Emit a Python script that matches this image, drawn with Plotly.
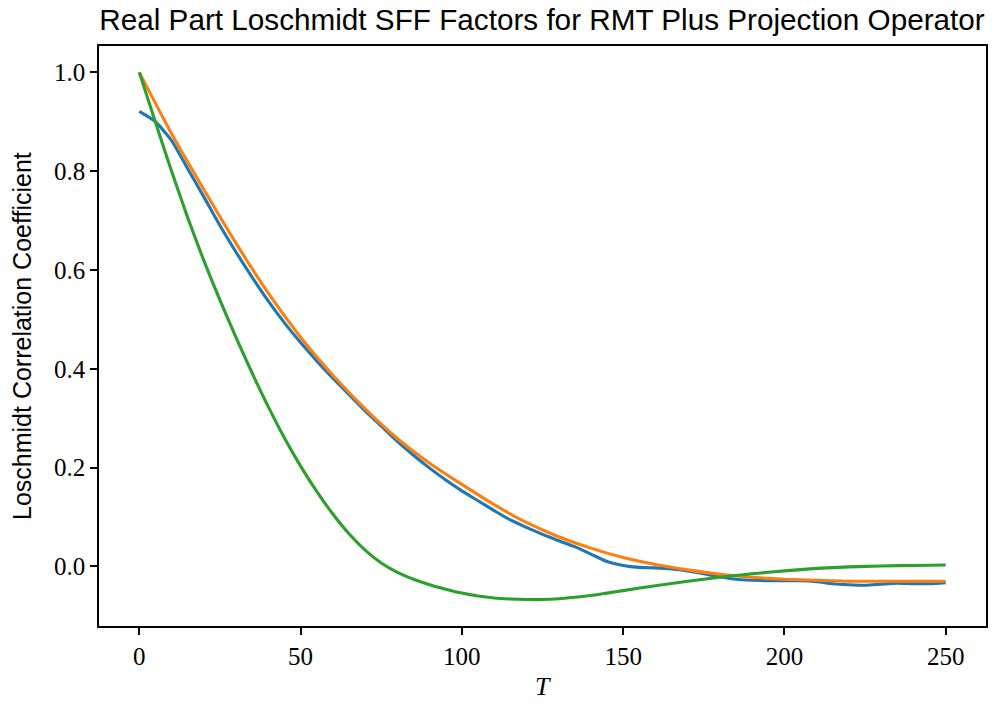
import plotly.graph_objects as go

# ---- data ----
T_orange = [0, 10, 20, 30, 40, 50, 60, 70, 80, 90, 100, 110, 120, 130, 140, 150,
            160, 170, 180, 190, 200, 210, 220, 230, 240, 250]
orange = [1.000, 0.876, 0.763, 0.654, 0.553, 0.464, 0.387, 0.319, 0.259, 0.209, 0.166,
          0.125, 0.089, 0.060, 0.037, 0.018, 0.004, -0.007, -0.016, -0.022, -0.026,
          -0.028, -0.030, -0.030, -0.030, -0.030]

T_blue = [0, 5, 10, 15, 20, 25, 30, 35, 40, 45, 50, 55, 60, 65, 70, 75, 80, 85, 90, 95,
          100, 105, 110, 115, 120, 125, 130, 135, 140, 145, 150, 155, 160, 165, 170, 175,
          180, 185, 190, 195, 200, 205, 210, 215, 220, 225, 230, 235, 240, 245, 250]
blue = [0.921, 0.900, 0.862, 0.805, 0.748, 0.690, 0.636, 0.585, 0.537, 0.493, 0.453,
        0.416, 0.381, 0.348, 0.315, 0.284, 0.253, 0.225, 0.199, 0.175, 0.153, 0.133,
        0.113, 0.094, 0.079, 0.065, 0.052, 0.040, 0.025, 0.010, 0.002, -0.002, -0.003,
        -0.005, -0.009, -0.015, -0.021, -0.026, -0.028, -0.029, -0.029, -0.029, -0.031,
        -0.035, -0.037, -0.038, -0.036, -0.034, -0.035, -0.035, -0.033]

T_green = [0, 5, 10, 15, 20, 25, 30, 35, 40, 45, 50, 55, 60, 65, 70, 75, 80, 85, 90, 95,
           100, 105, 110, 115, 120, 125, 130, 135, 140, 145, 150, 160, 170, 180, 190, 200,
           210, 220, 230, 240, 250]
green = [1.000, 0.899, 0.800, 0.706, 0.619, 0.539, 0.463, 0.391, 0.323, 0.260, 0.203,
         0.152, 0.106, 0.066, 0.033, 0.007, -0.012, -0.026, -0.037, -0.046, -0.054,
         -0.060, -0.064, -0.066, -0.067, -0.067, -0.0655, -0.0625, -0.059, -0.054,
         -0.049, -0.039, -0.030, -0.022, -0.015, -0.009, -0.004, -0.001, 0.001, 0.002,
         0.003]

x_ticks = [0, 50, 100, 150, 200, 250]
y_ticks = [0.0, 0.2, 0.4, 0.6, 0.8, 1.0]

title_text = "Real Part Loschmidt SFF Factors for RMT Plus Projection Operator"
y_label = "Loschmidt Correlation Coefficient"
x_label = "T"

serif = "Liberation Serif, DejaVu Serif, serif"
sans = "Liberation Sans, Arial, sans-serif"

# The page body has an 8px default margin; size the figure so the page does not overflow.
W, H = 980, 693
ML, MR, MT, MB = 91, 2, 38, 75
PW, PH = W - ML - MR, H - MT - MB

fig = go.Figure()
for xs, ys, col in [(T_blue, blue, "#1f77b4"), (T_orange, orange, "#ff7f0e"),
                    (T_green, green, "#2ca02c")]:
    fig.add_trace(go.Scatter(x=xs, y=ys, mode="lines",
                             line=dict(color=col, width=3.1, shape="spline", smoothing=0.6),
                             showlegend=False))

axis_common = dict(showline=True, linecolor="black", linewidth=1.6, mirror=True,
                   showgrid=False, zeroline=False, ticks="outside", ticklen=7,
                   tickwidth=1.6, tickcolor="black", automargin=False,
                   tickfont=dict(family=serif, size=25, color="black"))

fig.update_layout(
    width=W, height=H,
    margin=dict(l=ML, r=MR, t=MT, b=MB, autoexpand=False),
    plot_bgcolor="white", paper_bgcolor="white",
    title=dict(text=title_text, font=dict(family=sans, size=29.7, color="black"),
               x=534 / W, xanchor="center", xref="container",
               y=1 - 12 / H, yanchor="middle", yref="container"),
    xaxis=dict(range=[-12.5, 262.5], tickvals=x_ticks,
               ticktext=[str(v) for v in x_ticks], **axis_common),
    yaxis=dict(range=[-0.1206, 1.0534], tickvals=y_ticks,
               ticktext=[f"{v:.1f}" for v in y_ticks], **axis_common),
    annotations=[
        dict(text=y_label, x=(14 - ML) / PW, y=0.5, xref="paper", yref="paper",
             showarrow=False, textangle=-90, xanchor="center", yanchor="middle",
             font=dict(family=sans, size=25, color="black")),
        dict(text="<i>" + x_label + "</i>", x=0.5, y=-(678 - (H - MB)) / PH,
             xref="paper", yref="paper",
             showarrow=False, xanchor="center", yanchor="middle",
             font=dict(family=serif, size=26, color="black")),
    ],
)

fig.write_html("out.html")
